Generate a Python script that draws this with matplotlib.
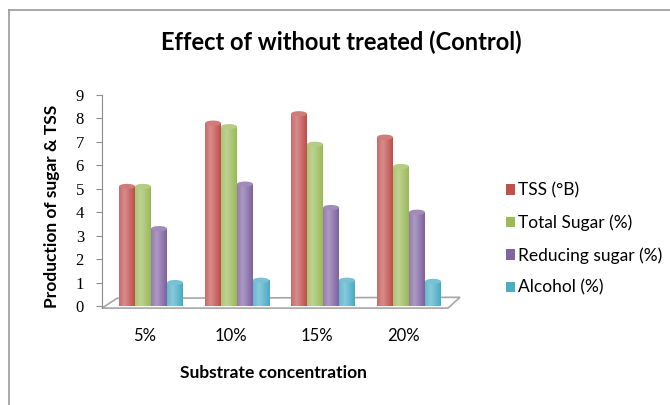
import matplotlib
matplotlib.use('Agg')
import matplotlib.pyplot as plt
from matplotlib.patches import Polygon, Ellipse
from matplotlib.lines import Line2D
import numpy as np

categories = ['5%', '10%', '15%', '20%']
tss = [5.1, 7.8, 8.2, 7.2]
total_sugar = [5.1, 7.65, 6.9, 5.95]
reducing_sugar = [3.3, 5.2, 4.2, 4.0]
alcohol = [1.0, 1.1, 1.1, 1.05]

series_labels = ['TSS (°B)', 'Total Sugar (%)', 'Reducing sugar (%)', 'Alcohol (%)']
series_values = [tss, total_sugar, reducing_sugar, alcohol]
colors = ['#C0504D', '#9BBB59', '#8064A2', '#4BACC6']

W, H = 670, 405
fig = plt.figure(figsize=(W / 100, H / 100), dpi=100)

# axes box in pixels: x 102..455, y 95..306 (from top)
ax = fig.add_axes([102 / W, (H - 306) / H, 353 / W, 211 / H])

px_per_unit = 86.0
xmin = -49 / px_per_unit
xmax = xmin + 353 / px_per_unit
bar_w = 16 / px_per_unit
x = np.arange(len(categories))


def shade(c, f):
    c = np.array(matplotlib.colors.to_rgb(c))
    if f >= 0:
        return c + (1 - c) * f
    return c * (1 + f)


for i, (vals, col) in enumerate(zip(series_values, colors)):
    pos = x + (i - 1.5) * bar_w
    bars = ax.bar(pos, vals, width=bar_w, color=col, zorder=3, label=series_labels[i])
    # cylinder shading
    grad = np.linspace(0, 1, 32)
    prof = np.clip(1 - np.abs(grad - 0.35) * 1.6, -0.5, 1)
    img = np.array([shade(col, 0.35 * p if p > 0 else 0.6 * p) for p in prof])[None, :, :]
    for b, v in zip(bars, vals):
        im = ax.imshow(img, extent=(b.get_x(), b.get_x() + bar_w, 0, v),
                       aspect='auto', zorder=4, interpolation='bilinear')
        im.set_clip_path(b)
        ax.add_patch(Ellipse((b.get_x() + bar_w / 2, v), bar_w, 0.22,
                             facecolor=shade(col, 0.25), edgecolor='none', zorder=5))
ax.set_xlim(xmin, xmax)
ax.set_ylim(0, 9)

# 3D floor
floor = Polygon([(xmin, -0.09), (xmin + 346 / px_per_unit, -0.09),
                 (xmin + 358 / px_per_unit, 0.37), (xmin + 15 / px_per_unit, 0.33)],
                closed=True, facecolor='white', edgecolor='#A6A6A6', lw=1.2,
                zorder=2, clip_on=False)
ax.add_patch(floor)

for s in ['top', 'right', 'bottom']:
    ax.spines[s].set_visible(False)
ax.spines['left'].set_color('#8C8C8C')
ax.spines['left'].set_bounds(-0.09, 9)

ax.set_yticks(range(0, 10))
ax.tick_params(axis='y', length=4, color='#8C8C8C', pad=9, labelsize=12)
for t in ax.get_yticklabels():
    t.set_fontfamily('Liberation Serif')

ax.set_xticks(x - 6 / px_per_unit)
ax.set_xticklabels(categories, fontfamily='Lato', fontsize=12)
ax.tick_params(axis='x', length=0, pad=16)

ax.set_ylabel('Production of sugar & TSS', fontfamily='Lato', fontweight='bold',
              fontsize=12.5)
ax.yaxis.set_label_coords(-50 / 353, 0.47)
ax.yaxis.label.set_va('center')
ax.set_xlabel('Substrate concentration', fontfamily='Lato', fontweight='bold',
              fontsize=12.5)
ax.xaxis.set_label_coords((273 - 102) / 353, -(373 - 306) / 211)
ax.xaxis.label.set_va('center')

fig.text(341 / W, 1 - 42 / H, 'Effect of without treated (Control)',
         ha='center', va='center', fontfamily='Lato', fontweight='bold', fontsize=17)

leg = fig.legend(loc='upper left', bbox_to_anchor=(490 / W, 1 - 167 / H),
                 frameon=False, prop={'family': 'Lato', 'size': 12.5},
                 handlelength=0.55, handleheight=0.55, handletextpad=0.15,
                 labelspacing=0.92)

# chart border
fig.add_artist(Line2D([9 / W, 1], [1 - 10 / H, 1 - 10 / H], color='#9A9A9A', lw=1.2))
fig.add_artist(Line2D([9 / W, 9 / W], [0, 1 - 10 / H], color='#9A9A9A', lw=1.2))

fig.savefig('out.png', dpi=100)
